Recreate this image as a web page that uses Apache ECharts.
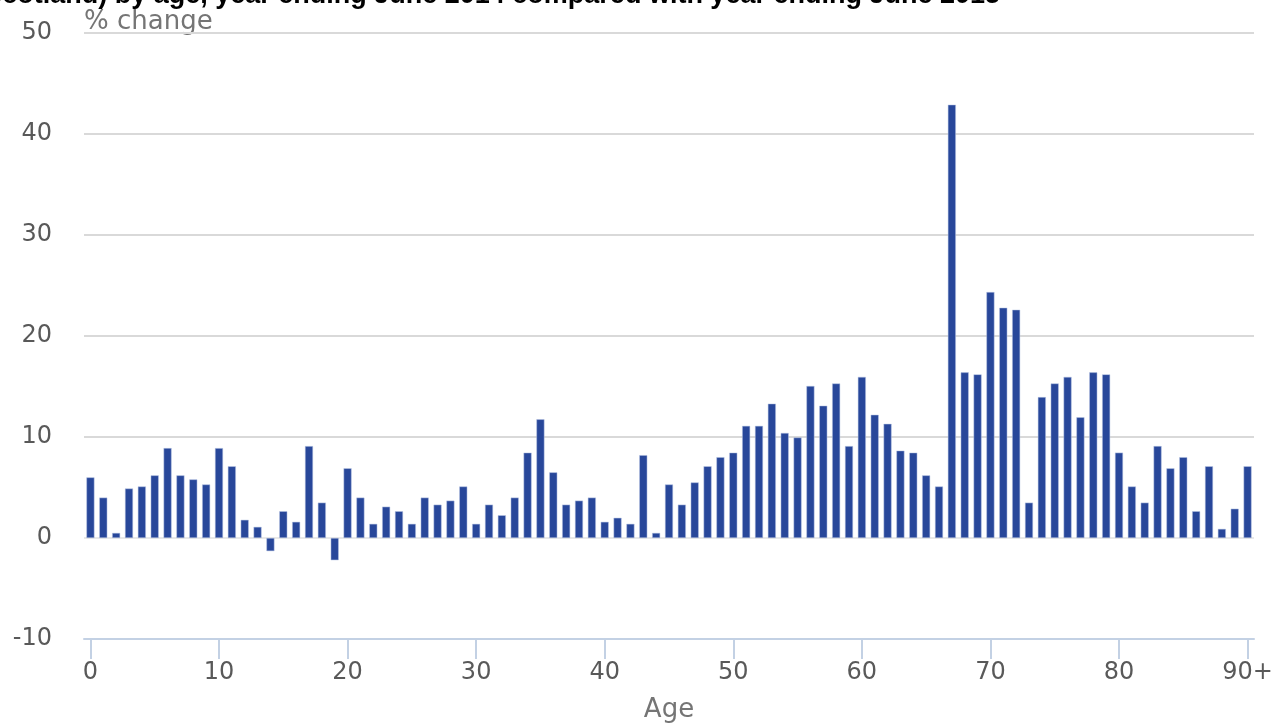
<!DOCTYPE html>
<html>
<head>
<meta charset="utf-8">
<script src="https://cdn.jsdelivr.net/npm/echarts@6/dist/echarts.min.js"></script>
<style>html,body{margin:0;padding:0;background:#fff;}#c{width:1279px;height:728px;}</style>
</head>
<body>
<div id="c"></div>
<script>
var titleText = "Scotland) by age, year ending June 2014 compared with year ending June 2015";
var yAxisTitle = "% change";
var xAxisTitle = "Age";
var ages = [];
for (var i = 0; i < 90; i++) ages.push(String(i));
ages.push("90+");
var pctChange = [
  6.0, 4.0, 0.5, 4.9, 5.1, 6.2, 8.9, 6.2, 5.8, 5.3,
  8.9, 7.1, 1.8, 1.1, -1.3, 2.65, 1.6, 9.1, 3.5, -2.2,
  6.9, 4.0, 1.4, 3.1, 2.65, 1.4, 4.0, 3.3, 3.7, 5.1,
  1.4, 3.3, 2.25, 4.0, 8.45, 11.75, 6.5, 3.3, 3.7, 4.0,
  1.6, 2.0, 1.4, 8.2, 0.5, 5.3, 3.3, 5.5, 7.1, 8.0,
  8.45, 11.1, 11.1, 13.3, 10.4, 9.95, 15.05, 13.1, 15.3, 9.1,
  15.95, 12.2, 11.3, 8.65, 8.45, 6.2, 5.1, 42.9, 16.4, 16.2,
  24.35, 22.8, 22.6, 3.5, 13.95, 15.3, 15.95, 11.95, 16.4, 16.2,
  8.45, 5.1, 3.5, 9.1, 6.9, 8.0, 2.65, 7.1, 0.9, 2.9,
  7.1
];
var yMin = -10, yMax = 50, yStep = 10;

var chart = echarts.init(document.getElementById('c'), null, {renderer: 'canvas'});
chart.setOption({
  animation: false,
  backgroundColor: '#ffffff',
  textStyle: {fontFamily: 'DejaVu Sans'},
  grid: {left: 84, right: 25, top: 33, bottom: 85, containLabel: false},
  graphic: [
    {type: 'text', x: 1000, y: 9, silent: true,
     style: {text: titleText, textAlign: 'right', textVerticalAlign: 'bottom',
             font: 'bold 27px "Liberation Sans", Arial, sans-serif', fill: '#000000'}},
    {type: 'text', x: 84, y: 9, silent: true,
     style: {text: yAxisTitle, textAlign: 'left', textVerticalAlign: 'top',
             font: '26px "DejaVu Sans", sans-serif', fill: '#757575'}}
  ],
  xAxis: {
    type: 'category',
    data: ages,
    boundaryGap: true,
    name: xAxisTitle,
    nameLocation: 'middle',
    nameGap: 58,
    nameTextStyle: {fontSize: 26, color: '#757575', fontFamily: 'DejaVu Sans'},
    axisLine: {onZero: false, lineStyle: {color: '#c3d1e4', width: 2}},
    axisTick: {show: true, interval: 9, alignWithLabel: true, length: 20,
               lineStyle: {color: '#c3d1e4', width: 2}},
    axisLabel: {interval: 9, fontSize: 24, color: '#595959', margin: 22,
                fontFamily: 'DejaVu Sans'},
    splitLine: {show: false}
  },
  yAxis: {
    type: 'value',
    min: yMin, max: yMax, interval: yStep,
    axisLine: {show: false},
    axisTick: {show: false},
    axisLabel: {fontSize: 24, color: '#595959', margin: 32, fontFamily: 'DejaVu Sans'},
    splitLine: {show: true, lineStyle: {color: ['#d9d9d9', '#e8e8e8', '#d9d9d9', '#d9d9d9', '#d9d9d9', '#d9d9d9', '#d9d9d9'], width: 2}}
  },
  series: [{
    type: 'bar',
    data: pctChange,
    barWidth: 8,
    itemStyle: {color: '#28479a', borderColor: '#b9c6e4', borderWidth: 0.5},
    emphasis: {disabled: true}
  }]
});
</script>
</body>
</html>
